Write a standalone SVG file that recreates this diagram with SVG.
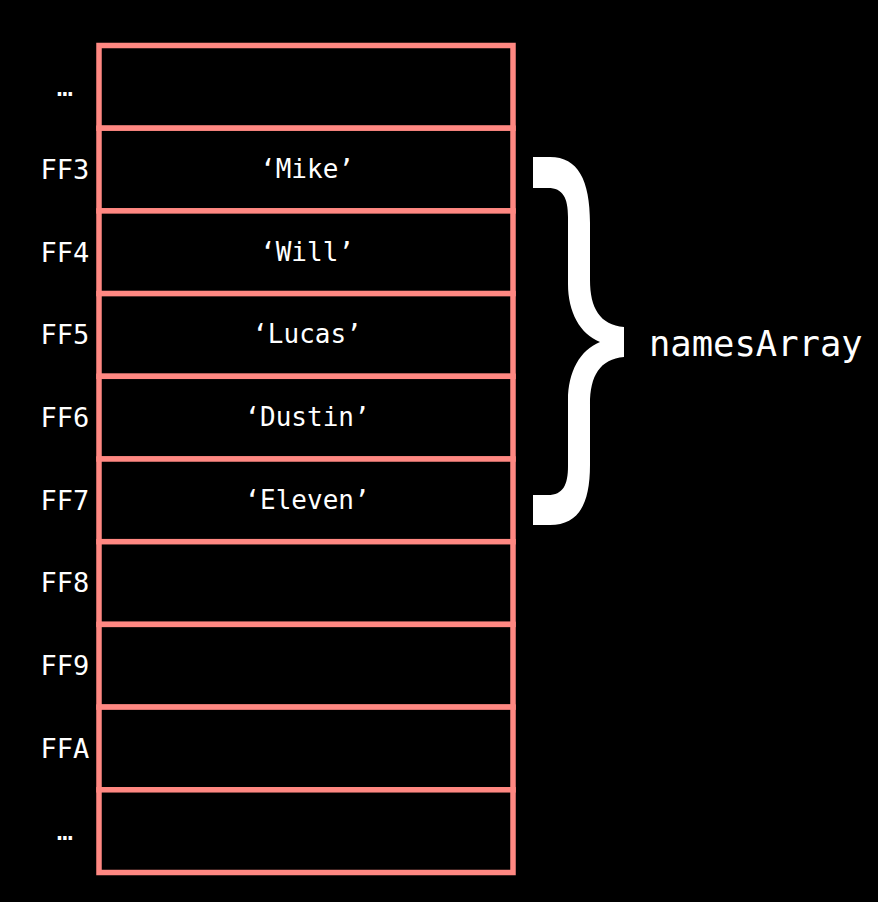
<svg xmlns="http://www.w3.org/2000/svg" width="878" height="902" viewBox="0 0 878 902">
<style>
.cell{fill:#000;stroke:#FF8882;stroke-width:5.5}
.addr{fill:#fff;font-family:"DejaVu Sans Mono",monospace;font-size:27px;text-anchor:middle}
.val{fill:#fff;font-family:"DejaVu Sans Mono",monospace;font-size:26px;text-anchor:middle}
.lbl{fill:#fff;font-family:"DejaVu Sans Mono",monospace;font-size:35.5px}
</style>
<rect width="878" height="902" fill="#000"/>
<g id="memory">
<rect class="cell" x="99" y="45.5" width="414" height="82.7"/>
<rect class="cell" x="99" y="128.2" width="414" height="82.7"/>
<rect class="cell" x="99" y="210.9" width="414" height="82.7"/>
<rect class="cell" x="99" y="293.6" width="414" height="82.7"/>
<rect class="cell" x="99" y="376.3" width="414" height="82.7"/>
<rect class="cell" x="99" y="459" width="414" height="82.7"/>
<rect class="cell" x="99" y="541.7" width="414" height="82.7"/>
<rect class="cell" x="99" y="624.4" width="414" height="82.7"/>
<rect class="cell" x="99" y="707.1" width="414" height="82.7"/>
<rect class="cell" x="99" y="789.8" width="414" height="82.7"/>
</g>
<g id="addresses">
<text class="addr" x="65" y="96">…</text>
<text class="addr" x="65" y="179">FF3</text>
<text class="addr" x="65" y="262">FF4</text>
<text class="addr" x="65" y="344">FF5</text>
<text class="addr" x="65" y="427">FF6</text>
<text class="addr" x="65" y="510">FF7</text>
<text class="addr" x="65" y="592">FF8</text>
<text class="addr" x="65" y="675">FF9</text>
<text class="addr" x="65" y="758">FFA</text>
<text class="addr" x="65" y="840">…</text>
</g>
<g id="values">
<text class="val" x="307" y="178">‘Mike’</text>
<text class="val" x="307" y="261">‘Will’</text>
<text class="val" x="307" y="343">‘Lucas’</text>
<text class="val" x="307" y="426">‘Dustin’</text>
<text class="val" x="307" y="509">‘Eleven’</text>
</g>
<g id="brace">
<path fill="#fff" d="M533,157 L550,157 C578,157 590,180 590,223 L590,280 C590,308 600,325 624,327 L624,357 C600,359 590,376 590,404 L590,465 C590,505 578,525 550,525 L533,525 L533,495 L548,495 C563,495 568,485 568,466 L568,400 C568,372 580,350 600,342 C580,334 568,312 568,284 L568,217 C568,198 563,188 548,188 L533,188 Z"/>
</g>
<g id="label">
<text class="lbl" x="649" y="356">namesArray</text>
</g>
</svg>
